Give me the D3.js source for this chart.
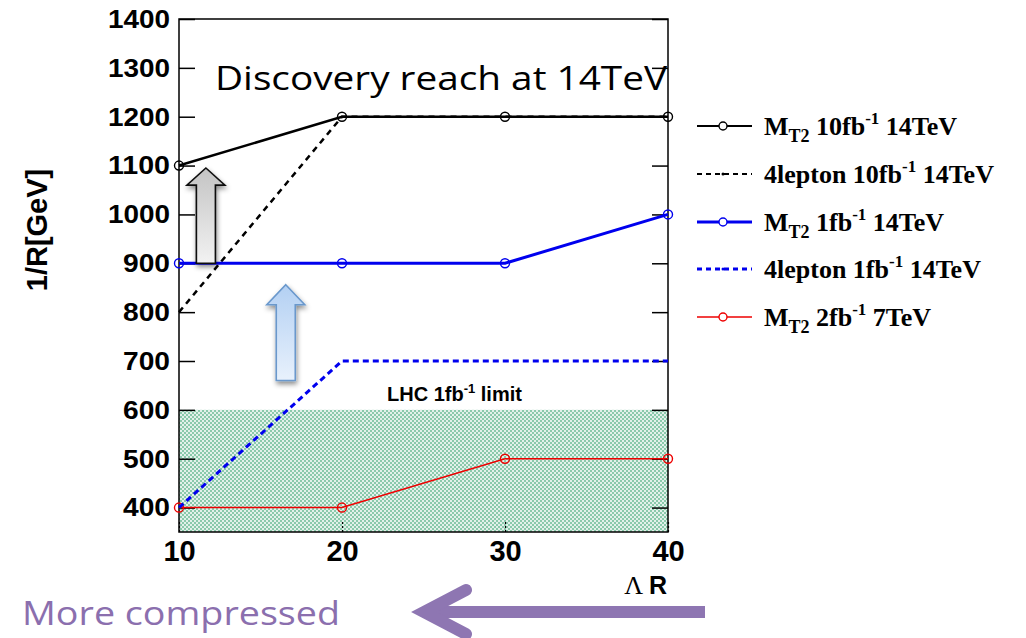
<!DOCTYPE html>
<html>
<head>
<meta charset="utf-8">
<script src="https://cdn.jsdelivr.net/npm/d3@7"></script>
<style>
  html, body { margin: 0; padding: 0; background: #fff; }
  svg { display: block; }
</style>
</head>
<body>
<svg id="chart" width="1026" height="638"></svg>
<script>
// ---- data ----
const lambdaR = [10, 20, 30, 40];
const mt2_10fb_14 = [1100, 1200, 1200, 1200];
const lep4_10fb_14 = [800, 1200, 1200, 1200];
const mt2_1fb_14 = [900, 900, 900, 1000];
const lep4_1fb_14 = [400, 700, 700, 700];
const mt2_2fb_7 = [400, 400, 500, 500];
const yTicks = [400, 500, 600, 700, 800, 900, 1000, 1100, 1200, 1300, 1400];
const xTicks = [10, 20, 30, 40];
const lhcLimit = 600;

const series = [
  { key: "mt2_10", pre: "M", sub: "T2", mid: " 10fb", sup: "-1", post: " 14TeV", values: mt2_10fb_14, color: "#000", width: 2.5, dash: null, marker: true },
  { key: "lep_10", pre: "4lepton 10fb", sub: "", mid: "", sup: "-1", post: " 14TeV", values: lep4_10fb_14, color: "#000", width: 2.5, dash: "6,5", marker: false },
  { key: "mt2_1", pre: "M", sub: "T2", mid: " 1fb", sup: "-1", post: " 14TeV", values: mt2_1fb_14, color: "#0000ee", width: 3, dash: null, marker: true },
  { key: "lep_1", pre: "4lepton 1fb", sub: "", mid: "", sup: "-1", post: " 14TeV", values: lep4_1fb_14, color: "#0000ee", width: 3, dash: "6,4", marker: false },
  { key: "mt2_2", pre: "M", sub: "T2", mid: " 2fb", sup: "-1", post: " 7TeV", values: mt2_2fb_7, color: "#ee0000", width: 1.6, dash: null, marker: true }
];

const svg = d3.select("#chart");
const L = 179, R = 668, T = 19, B = 532;
const x = d3.scaleLinear().domain([10, 40]).range([L, R]);
const y = d3.scaleLinear().domain([350, 1400]).range([B, T]);

// pattern for LHC limit region
const defs = svg.append("defs");
const pat = defs.append("pattern").attr("id", "hatch").attr("patternUnits", "userSpaceOnUse")
  .attr("width", 4).attr("height", 4);
pat.append("rect").attr("width", 4).attr("height", 4).attr("fill", "#e2f1ea");
pat.append("rect").attr("x", 0).attr("y", 0).attr("width", 2).attr("height", 2).attr("fill", "#8ac9ab");
pat.append("rect").attr("x", 2).attr("y", 2).attr("width", 2).attr("height", 2).attr("fill", "#8ac9ab");

const gGray = defs.append("linearGradient").attr("id", "gGray").attr("x1", 0).attr("y1", 0).attr("x2", 0).attr("y2", 1);
gGray.append("stop").attr("offset", "0%").attr("stop-color", "#c4c4c4");
gGray.append("stop").attr("offset", "100%").attr("stop-color", "#f2f2f2");
const gBlue = defs.append("linearGradient").attr("id", "gBlue").attr("x1", 0).attr("y1", 0).attr("x2", 0).attr("y2", 1);
gBlue.append("stop").attr("offset", "0%").attr("stop-color", "#b3d0f3");
gBlue.append("stop").attr("offset", "100%").attr("stop-color", "#e8f1fc");
const shadow = defs.append("filter").attr("id", "shadow").attr("x", "-30%").attr("y", "-30%").attr("width", "160%").attr("height", "160%");
shadow.append("feDropShadow").attr("dx", 1).attr("dy", 3).attr("stdDeviation", 2.5).attr("flood-color", "#000").attr("flood-opacity", 0.45);

// shaded region
svg.append("rect")
  .attr("x", x(10)).attr("y", y(lhcLimit))
  .attr("width", x(40) - x(10)).attr("height", y(350) - y(lhcLimit))
  .attr("fill", "url(#hatch)");

// frame
svg.append("rect").attr("x", L).attr("y", T).attr("width", R - L).attr("height", B - T)
  .attr("fill", "none").attr("stroke", "#000").attr("stroke-width", 1.5);

// axes
const yAxisL = d3.axisLeft(y).tickValues(yTicks).tickSize(-16).tickPadding(8).tickFormat(d3.format("d"));
const gy = svg.append("g").attr("transform", `translate(${L},0)`).call(yAxisL);
gy.select(".domain").remove();
gy.selectAll(".tick line").attr("stroke", "#000").attr("stroke-width", 1.5);
gy.selectAll(".tick text").attr("x", -9)
  .style("font-family", "'Liberation Sans', Arial, sans-serif").style("font-weight", "bold")
  .style("font-size", "26px").attr("fill", "#000").attr("textLength", 62).attr("lengthAdjust", "spacingAndGlyphs");
gy.selectAll(".tick text").filter(d => d < 1000).attr("textLength", 47);

const yAxisR = d3.axisRight(y).tickValues(yTicks).tickSize(-16).tickFormat("");
const gyr = svg.append("g").attr("transform", `translate(${R},0)`).call(yAxisR);
gyr.select(".domain").remove();
gyr.selectAll(".tick line").attr("stroke", "#000").attr("stroke-width", 1.5);

const xAxis = d3.axisBottom(x).tickValues(xTicks).tickSize(-10).tickPadding(10).tickFormat(d3.format("d"));
const gx = svg.append("g").attr("transform", `translate(0,${B})`).call(xAxis);
gx.select(".domain").remove();
gx.selectAll(".tick line").attr("stroke", "#000").attr("stroke-width", 1.2).attr("stroke-dasharray", "2,2");
gx.selectAll(".tick text").attr("y", 8)
  .style("font-family", "'Liberation Sans', Arial, sans-serif").style("font-weight", "bold")
  .style("font-size", "29px").attr("fill", "#000");

// lines
const line = d3.line().x((d, i) => x(lambdaR[i])).y(d => y(d));
const order = [4, 3, 1, 2, 0];
order.forEach(k => {
  const s = series[k];
  svg.append("path").datum(s.values).attr("d", line)
    .attr("fill", "none").attr("stroke", s.color).attr("stroke-width", s.width)
    .attr("stroke-dasharray", s.dash);
  if (s.marker) {
    svg.selectAll(null).data(s.values).enter().append("circle")
      .attr("cx", (d, i) => x(lambdaR[i])).attr("cy", d => y(d)).attr("r", 4.5)
      .attr("fill", "none").attr("stroke", s.color).attr("stroke-width", 1.4);
  }
});

// block arrows (in data coordinates)
function blockArrow(cx, tipY, headY, baseY, halfHead, halfShaft, fill, stroke) {
  const px = x(cx);
  const pts = [
    [px, y(tipY)], [px + halfHead, y(headY)], [px + halfShaft, y(headY)], [px + halfShaft, y(baseY)],
    [px - halfShaft, y(baseY)], [px - halfShaft, y(headY)], [px - halfHead, y(headY)]
  ];
  svg.append("polygon").attr("points", pts.map(p => p.join(",")).join(" "))
    .attr("fill", fill).attr("stroke", stroke).attr("stroke-width", 1.6).attr("filter", "url(#shadow)");
}
blockArrow(11.65, 1095, 1060, 900, 19, 9.5, "url(#gGray)", "#111");
blockArrow(16.55, 856, 815, 660, 19, 9.5, "url(#gBlue)", "#6a98cc");

// annotations
svg.append("text").attr("x", 215).attr("y", 90).text("Discovery reach at 14TeV")
  .style("font-family", "'Open Sans', sans-serif").style("font-size", "32px").attr("fill", "#000")
  .attr("textLength", 452).attr("lengthAdjust", "spacingAndGlyphs");

const lhc = svg.append("text").attr("x", 387).attr("y", y(lhcLimit) - 9)
  .style("font-family", "'Liberation Sans', Arial, sans-serif").style("font-weight", "bold")
  .style("font-size", "20px").attr("fill", "#000");
lhc.append("tspan").text("LHC 1fb");
lhc.append("tspan").attr("dy", -8).style("font-size", "13px").text("-1");
lhc.append("tspan").attr("dy", 8).text(" limit");

// axis titles
svg.append("text").attr("transform", "translate(47,230) rotate(-90)").attr("text-anchor", "middle")
  .style("font-family", "'Liberation Sans', Arial, sans-serif").style("font-weight", "bold")
  .style("font-size", "29px").attr("fill", "#000").text("1/R[GeV]");

const xt = svg.append("text").attr("x", 667).attr("y", 594).attr("text-anchor", "end").attr("fill", "#000");
xt.append("tspan").style("font-family", "'Liberation Serif', 'Times New Roman', serif").style("font-size", "26px").text("Λ ");
xt.append("tspan").style("font-family", "'Liberation Sans', Arial, sans-serif").style("font-weight", "bold").style("font-size", "25px").text("R");

// legend
const lg = svg.append("g");
const rowY = [126, 174, 222, 269, 317];
series.forEach((s, i) => {
  const g = lg.append("g").attr("transform", `translate(0,${rowY[i]})`);
  g.append("line").attr("x1", 697).attr("x2", 752).attr("y1", 0).attr("y2", 0)
    .attr("stroke", s.color).attr("stroke-width", s.width === 1.6 ? 1.6 : (s.color === "#000" ? 2.2 : 2.8))
    .attr("stroke-dasharray", s.dash ? "5,4" : null);
  if (s.marker) {
    g.append("circle").attr("cx", 723).attr("cy", 0).attr("r", 4).attr("fill", "#fff")
      .attr("stroke", s.color).attr("stroke-width", 1.4);
  } else {
    g.append("circle").attr("cx", 723).attr("cy", 0).attr("r", 1.5).attr("fill", s.color);
  }
  const t = g.append("text").attr("x", 764).attr("y", 9)
    .style("font-family", "'Liberation Serif', 'Times New Roman', serif").style("font-weight", "bold")
    .style("font-size", "26px").attr("fill", "#000");
  t.append("tspan").text(s.pre);
  if (s.sub) {
    t.append("tspan").attr("dy", 7).style("font-size", "18px").text(s.sub);
    t.append("tspan").attr("dy", -7).text(s.mid);
  }
  t.append("tspan").attr("dy", -11).style("font-size", "17px").text(s.sup);
  t.append("tspan").attr("dy", 11).text(s.post);
});

// "More compressed" annotation with arrow
svg.append("text").attr("x", 22).attr("y", 625).text("More compressed")
  .style("font-family", "'Open Sans', sans-serif").style("font-size", "33px").attr("fill", "#8b6fae")
  .attr("textLength", 318).attr("lengthAdjust", "spacingAndGlyphs");
const pc = "#8e76b2";
svg.append("line").attr("x1", 705).attr("y1", 612).attr("x2", 428).attr("y2", 612)
  .attr("stroke", pc).attr("stroke-width", 12);
svg.append("path").attr("d", "M466,590 L424,612 L466,634")
  .attr("fill", "none").attr("stroke", pc).attr("stroke-width", 12)
  .attr("stroke-linecap", "round").attr("stroke-linejoin", "miter");
</script>
</body>
</html>
